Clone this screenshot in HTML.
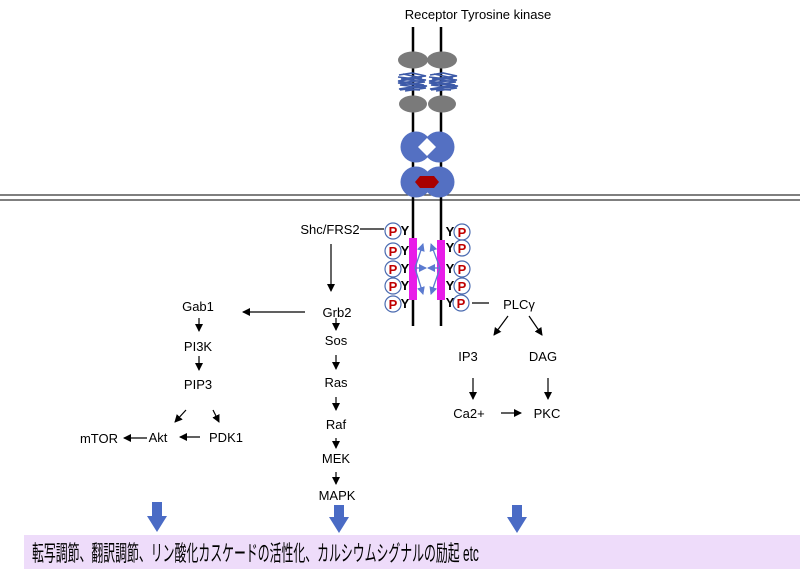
<!DOCTYPE html>
<html><head><meta charset="utf-8"><style>
html,body{margin:0;padding:0;background:#fff;width:800px;height:579px;overflow:hidden}
svg text{font-family:"Liberation Sans",sans-serif;font-size:13px;fill:#000}
.banner{position:absolute;left:24px;top:535px;width:776px;height:34px;background:#eedcfa}
.bt{position:absolute;left:32px;top:536px;font-family:"Liberation Sans","Noto Sans CJK JP",sans-serif;font-size:22px;white-space:nowrap;transform-origin:0 0;transform:scaleX(0.54);color:#000}
</style></head><body>
<div class="banner"></div>
<div class="bt">転写調節、翻訳調節、リン酸化カスケードの活性化、カルシウムシグナルの励起 etc</div>
<svg width="800" height="579" style="position:absolute;left:0;top:0">
<defs>
<marker id="a" markerWidth="8" markerHeight="8" refX="7" refY="4" orient="auto" markerUnits="userSpaceOnUse"><path d="M0,0 L8,4 L0,8 Z" fill="#000"/></marker>
<marker id="b" markerWidth="8" markerHeight="8" refX="7" refY="4" orient="auto" markerUnits="userSpaceOnUse"><path d="M0,0 L8,4 L0,8 Z" fill="#5b7bd0"/></marker>
</defs>
<text x="478" y="19" text-anchor="middle">Receptor Tyrosine kinase</text>
<line x1="0" y1="195" x2="800" y2="195" stroke="#333" stroke-width="1.3"/>
<line x1="0" y1="200" x2="800" y2="200" stroke="#333" stroke-width="1.3"/>
<line x1="413" y1="27" x2="413" y2="326" stroke="#000" stroke-width="2.5"/>
<line x1="441" y1="27" x2="441" y2="326" stroke="#000" stroke-width="2.5"/>
<ellipse cx="413" cy="60" rx="15" ry="8.5" fill="#7a7a7a"/>
<ellipse cx="442" cy="60" rx="15" ry="8.5" fill="#7a7a7a"/>
<ellipse cx="413" cy="104" rx="14" ry="8.5" fill="#7a7a7a"/>
<ellipse cx="442" cy="104" rx="14" ry="8.5" fill="#7a7a7a"/>
<g fill="none" stroke="#3d5aa8" stroke-width="1.6">
<polyline points="399,75 412,73 426,76 401,79 425,82 400,85 426,88 405,91"/>
<polyline points="403,74 422,78 398,81 424,85 399,89 420,90"/>
<polyline points="398,77 426,80 398,83 427,86 400,90"/>
<polyline points="430,75 443,73 457,76 432,79 456,82 431,85 457,88 436,91"/>
<polyline points="434,74 453,78 429,81 455,85 430,89 451,90"/>
<polyline points="429,77 457,80 429,83 458,86 431,90"/>
</g>
<circle cx="416" cy="147" r="15.5" fill="#5470c2"/>
<circle cx="439" cy="147" r="15.5" fill="#5470c2"/>
<path d="M427,138 L436,147 L427,156 L418,147 Z" fill="#fff"/>
<circle cx="416" cy="182" r="15.5" fill="#5470c2"/>
<circle cx="439" cy="182" r="15.5" fill="#5470c2"/>
<path d="M420,176 L434,176 L439,182 L434,188 L420,188 L415,182 Z" fill="#a80000"/>
<rect x="409" y="238" width="8" height="62" fill="#e81ce8"/>
<rect x="437" y="240" width="8" height="60" fill="#e81ce8"/>
<g stroke="#5b7bd0" stroke-width="1.3" marker-end="url(#b)">
<line x1="415" y1="268" x2="423" y2="244"/>
<line x1="415" y1="268" x2="426" y2="268"/>
<line x1="415" y1="268" x2="423" y2="294"/>
<line x1="440" y1="268" x2="431" y2="244"/>
<line x1="440" y1="268" x2="428" y2="268"/>
<line x1="440" y1="268" x2="431" y2="294"/>
</g>
<g font-weight="bold">
<g fill="#fff" stroke="#4a6ab0" stroke-width="1.2">
<circle cx="393" cy="231" r="8"/><circle cx="393" cy="251" r="8"/><circle cx="393" cy="269" r="8"/><circle cx="393" cy="286" r="8"/><circle cx="393" cy="304" r="8"/>
<circle cx="462" cy="232" r="8"/><circle cx="462" cy="248" r="8"/><circle cx="462" cy="269" r="8"/><circle cx="462" cy="286" r="8"/><circle cx="461" cy="303" r="8"/>
</g>
<g text-anchor="middle">
<text x="393" y="236" style="fill:#c00000;font-weight:bold">P</text><text x="393" y="256" style="fill:#c00000;font-weight:bold">P</text><text x="393" y="274" style="fill:#c00000;font-weight:bold">P</text><text x="393" y="291" style="fill:#c00000;font-weight:bold">P</text><text x="393" y="309" style="fill:#c00000;font-weight:bold">P</text>
<text x="462" y="237" style="fill:#c00000;font-weight:bold">P</text><text x="462" y="253" style="fill:#c00000;font-weight:bold">P</text><text x="462" y="274" style="fill:#c00000;font-weight:bold">P</text><text x="462" y="291" style="fill:#c00000;font-weight:bold">P</text><text x="461" y="308" style="fill:#c00000;font-weight:bold">P</text>
</g>
<g text-anchor="middle" style="font-weight:bold">
<text x="405" y="235">Y</text><text x="405" y="255">Y</text><text x="405" y="273">Y</text><text x="405" y="290">Y</text><text x="405" y="308">Y</text>
<text x="450" y="236">Y</text><text x="450" y="252">Y</text><text x="450" y="273">Y</text><text x="450" y="290">Y</text><text x="450" y="307">Y</text>
</g>
</g>
<g stroke="#000" stroke-width="1.2" fill="none">
<line x1="360" y1="229" x2="384" y2="229"/>
<line x1="472" y1="303" x2="489" y2="303"/>
</g>
<g stroke="#000" stroke-width="1.2" marker-end="url(#a)">
<line x1="331" y1="244" x2="331" y2="291"/>
<line x1="305" y1="312" x2="243" y2="312"/>
<line x1="336" y1="318" x2="336" y2="330"/>
<line x1="336" y1="355" x2="336" y2="369"/>
<line x1="336" y1="397" x2="336" y2="410"/>
<line x1="336" y1="438" x2="336" y2="448"/>
<line x1="336" y1="472" x2="336" y2="484"/>
<line x1="199" y1="318" x2="199" y2="331"/>
<line x1="199" y1="356" x2="199" y2="370"/>
<line x1="186" y1="410" x2="175" y2="422"/>
<line x1="213" y1="410" x2="219" y2="422"/>
<line x1="200" y1="437" x2="180" y2="437"/>
<line x1="147" y1="438" x2="124" y2="438"/>
<line x1="508" y1="316" x2="494" y2="335"/>
<line x1="529" y1="316" x2="542" y2="335"/>
<line x1="473" y1="378" x2="473" y2="399"/>
<line x1="548" y1="378" x2="548" y2="399"/>
<line x1="501" y1="413" x2="521" y2="413"/>
</g>
<g text-anchor="middle">
<text x="330" y="234">Shc/FRS2</text>
<text x="337" y="317">Grb2</text>
<text x="336" y="345">Sos</text>
<text x="336" y="387">Ras</text>
<text x="336" y="429">Raf</text>
<text x="336" y="463">MEK</text>
<text x="337" y="500">MAPK</text>
<text x="198" y="311">Gab1</text>
<text x="198" y="351">PI3K</text>
<text x="198" y="389">PIP3</text>
<text x="99" y="443">mTOR</text>
<text x="158" y="442">Akt</text>
<text x="226" y="442">PDK1</text>
<text x="519" y="309">PLCγ</text>
<text x="468" y="361">IP3</text>
<text x="543" y="361">DAG</text>
<text x="469" y="418">Ca2+</text>
<text x="547" y="418">PKC</text>
</g>
<g fill="#4a6bc5">
<path d="M152,502 H162 V516 H167 L157,532 L147,516 H152 Z"/>
<path d="M334,505 H344 V517 H349 L339,533 L329,517 H334 Z"/>
<path d="M512,505 H522 V517 H527 L517,533 L507,517 H512 Z"/>
</g>
</svg>
</body></html>
